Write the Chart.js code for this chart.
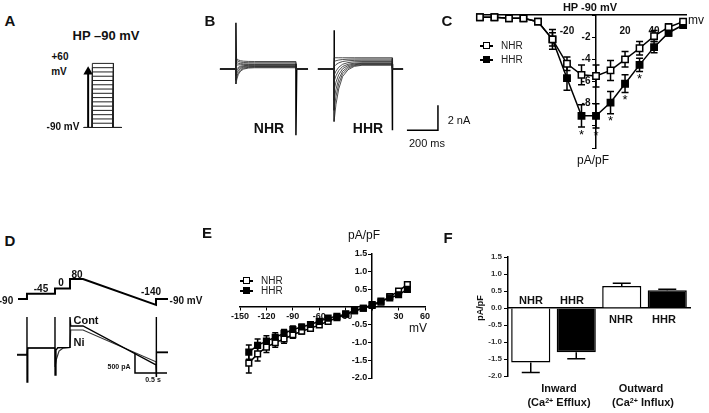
<!DOCTYPE html>
<html>
<head>
<meta charset="utf-8">
<script src="https://cdn.jsdelivr.net/npm/chart.js@4.4.0/dist/chart.umd.min.js"></script>
<style>
  body { margin: 0; background: #fff; }
  #fig { position: relative; width: 709px; height: 413px; overflow: hidden;
         font-family: "Liberation Sans", Arial, sans-serif; color: #111; }
  canvas { position: absolute; }
  .t { position: absolute; white-space: nowrap; line-height: 1; transform: translate(-50%, -50%); }
  .b { font-weight: bold; }
  .leg { position: absolute; display: flex; align-items: center; font-size: 10px; line-height: 1; color: #222; }
  .mk { position: relative; width: 13px; height: 8px; margin-right: 8px; }
  .mk::before { content: ""; position: absolute; left: 0; right: 0; top: 3px; height: 1.5px; background: #000; }
  .mk i { position: absolute; left: 3px; top: 0; width: 7px; height: 7px; box-sizing: border-box;
          border: 1.5px solid #000; background: #fff; }
  .mk i.f { background: #000; }
  sup { font-size: 65%; vertical-align: 0; position: relative; top: -0.45em; }
</style>
</head>
<body>
<div id="fig">
  <canvas id="cA" width="70" height="90" style="left:70px;top:50px"></canvas>
  <canvas id="cB" width="230" height="125" style="left:215px;top:15px"></canvas>
  <canvas id="cC" width="269" height="175" style="left:440px;top:0px"></canvas>
  <canvas id="cD" width="205" height="125" style="left:0px;top:265px"></canvas>
  <canvas id="cE" width="250" height="165" style="left:200px;top:225px"></canvas>
  <canvas id="cF" width="269" height="150" style="left:440px;top:240px"></canvas>

  <!-- panel A -->
  <div class="t b" style="left:10px;top:20px;font-size:15px">A</div>
  <div class="t b" style="left:106px;top:35px;font-size:13px">HP –90 mV</div>
  <div class="t b" style="left:60px;top:57px;font-size:10px">+60</div>
  <div class="t b" style="left:59px;top:72px;font-size:10px">mV</div>
  <div class="t b" style="left:63px;top:127px;font-size:10px">-90 mV</div>

  <!-- panel B -->
  <div class="t b" style="left:210px;top:20px;font-size:15px">B</div>
  <div class="t b" style="left:269px;top:128px;font-size:14px">NHR</div>
  <div class="t b" style="left:368px;top:128px;font-size:14px">HHR</div>
  <div class="t" style="left:459px;top:120px;font-size:11px">2 nA</div>
  <div class="t" style="left:427px;top:143px;font-size:11px">200 ms</div>

  <!-- panel C -->
  <div class="t b" style="left:447px;top:20px;font-size:15px">C</div>
  <div class="t b" style="left:590px;top:7px;font-size:11px">HP -90 mV</div>
  <div class="t" style="left:696px;top:20px;font-size:12px">mv</div>
  <div class="t" style="left:593px;top:160px;font-size:12px">pA/pF</div>
  <div class="leg" style="left:480px;top:41px"><span class="mk"><i></i></span>NHR</div>
  <div class="leg" style="left:480px;top:55px"><span class="mk"><i class="f"></i></span>HHR</div>

  <!-- panel D -->
  <div class="t b" style="left:10px;top:240px;font-size:15px">D</div>
  <div class="t b" style="left:6px;top:301px;font-size:10px">-90</div>
  <div class="t b" style="left:41px;top:289px;font-size:10px">-45</div>
  <div class="t b" style="left:61px;top:283px;font-size:10px">0</div>
  <div class="t b" style="left:77px;top:275px;font-size:10px">80</div>
  <div class="t b" style="left:151px;top:292px;font-size:10px">-140</div>
  <div class="t b" style="left:186px;top:301px;font-size:10px">-90 mV</div>
  <div class="t b" style="left:86px;top:320px;font-size:11px">Cont</div>
  <div class="t b" style="left:79px;top:342px;font-size:11px">Ni</div>
  <div class="t b" style="left:119px;top:366px;font-size:7px">500 pA</div>
  <div class="t b" style="left:153px;top:379px;font-size:7px">0.5 s</div>

  <!-- panel E -->
  <div class="t b" style="left:207px;top:232px;font-size:15px">E</div>
  <div class="t" style="left:364px;top:235px;font-size:12px">pA/pF</div>
  <div class="t" style="left:418px;top:328px;font-size:12px">mV</div>
  <div class="leg" style="left:240px;top:276px"><span class="mk"><i></i></span>NHR</div>
  <div class="leg" style="left:240px;top:286px"><span class="mk"><i class="f"></i></span>HHR</div>

  <!-- panel F -->
  <div class="t b" style="left:448px;top:237px;font-size:15px">F</div>
  <div class="t b" style="left:531px;top:300px;font-size:11px">NHR</div>
  <div class="t b" style="left:572px;top:300px;font-size:11px">HHR</div>
  <div class="t b" style="left:621px;top:319px;font-size:11px">NHR</div>
  <div class="t b" style="left:664px;top:319px;font-size:11px">HHR</div>
  <div class="t b" style="left:559px;top:388px;font-size:11px">Inward</div>
  <div class="t b" style="left:559px;top:403px;font-size:11px">(Ca<sup>2+</sup> Efflux)</div>
  <div class="t b" style="left:641px;top:388px;font-size:11px">Outward</div>
  <div class="t b" style="left:643px;top:403px;font-size:11px">(Ca<sup>2+</sup> Influx)</div>
  <div class="t b" style="left:480px;top:308px;font-size:9px;transform:translate(-50%,-50%) rotate(-90deg)">pA/pF</div>
</div>

<script>
// ---- data ----
// A: step protocol
const stepTimeA = [0, 40, 40, 140, 140, 180];
const stepLevelsA = [-90, -80, -70, -60, -50, -40, -30, -20, -10, 0, 10, 20, 30, 40, 50, 60];

// B: current traces (ms, nA)
const nhrEpochB = [32, 135, 522, 600];
const hhrEpochB = [664, 768, 1142, 1213];
const nhrPeakB = [-1.2, -0.9, -0.55, -0.3, -0.1, 0.3, 0.55, 0.75, 0.9];
const nhrPlatB = [0.1, 0.15, 0.2, 0.25, 0.3, 0.35, 0.4, 0.5, 0.6];
const hhrPeakB = [-4.2, -3.3, -2.5, -1.7, -1.0, -0.5, 0.2, 0.6, 0.9];
const hhrPlatB = [0.3, 0.35, 0.4, 0.45, 0.5, 0.6, 0.7, 0.8, 0.9];
const decayFracB = [1, 0.7, 0.42, 0.2, 0.08, 0.02, 0];
const nhrDecayMsB = [0, 6, 15, 30, 50, 80, 120];
const hhrDecayMsB = [0, 12, 30, 55, 90, 130, 180];
const nhrSpikeB = [3.7, -5.3];
const hhrSpikeB = [3.1, -4.9];

// C: I-V, HP -90 mV
const voltC = [-80, -70, -60, -50, -40, -30, -20, -10, 0, 10, 20, 30, 40, 50, 60];
const nhrC = [-0.2, -0.2, -0.3, -0.3, -0.6, -2.2, -4.4, -5.4, -5.5, -5.0, -4.0, -3.0, -1.9, -1.1, -0.6];
const hhrC = [-0.2, -0.2, -0.3, -0.3, -0.6, -2.2, -5.7, -9.1, -9.1, -7.9, -6.2, -4.5, -2.9, -1.6, -0.9];
const nhrErrC = [0, 0, 0, 0, 0.2, 0.6, 0.6, 0.9, 1.0, 0.9, 0.7, 0.6, 0.5, 0.3, 0.2];
const hhrErrC = [0, 0, 0, 0, 0.2, 0.9, 1.1, 1.0, 1.1, 1.0, 0.8, 0.6, 0.5, 0.3, 0.2];
const sigVoltC = [-10, 0, 10, 20, 30];

// D: ramp protocol and currents
const protoTimeD = [0, 140, 140, 577, 577, 811, 811, 1014, 2153, 2153, 2340];
const protoVoltD = [-90, -90, -45, -45, 0, 0, 80, 80, -140, -90, -90];
const contTimeD = [-16, 140, 140, 141, 152, 577, 577, 578, 592, 620, 811, 811, 822, 1014, 2153, 2153, 2154, 2168, 2340];
const contCurrD = [0, 0, 950, -675, 175, 180, 950, -500, 120, 180, 190, 950, 725, 725, -250, 950, -550, 60, 60];
const niTimeD = [-16, 140, 152, 577, 578, 600, 640, 700, 811, 822, 1014, 2153, 2154, 2168, 2340];
const niCurrD = [15, 15, 175, 175, -300, -100, 100, 170, 190, 625, 625, -170, -550, 80, 80];

// E: ramp I-V
const voltE = [-140, -130, -120, -110, -100, -90, -80, -70, -60, -50, -40, -30, -20, -10, 0, 10, 20, 30, 40];
const nhrE = [-1.58, -1.32, -1.13, -1.0, -0.9, -0.78, -0.68, -0.6, -0.5, -0.4, -0.3, -0.2, -0.1, -0.03, 0.05, 0.14, 0.3, 0.45, 0.64];
const hhrE = [-1.27, -1.08, -0.96, -0.85, -0.74, -0.63, -0.56, -0.49, -0.4, -0.31, -0.26, -0.19, -0.1, -0.03, 0.07, 0.17, 0.26, 0.35, 0.5];
const nhrErrE = [0.28, 0.2, 0.15, 0.13, 0.12, 0.1, 0.08, 0.07, 0.06, 0.05, 0.05, 0.04, 0.03, 0.03, 0.03, 0.04, 0.05, 0.05, 0.06];
const hhrErrE = [0.2, 0.18, 0.15, 0.13, 0.11, 0.1, 0.08, 0.07, 0.06, 0.05, 0.05, 0.04, 0.03, 0.03, 0.03, 0.03, 0.04, 0.04, 0.05];

// F: bars
const groupsF = ["NHR", "HHR", "NHR", "HHR"];
const valuesF = [-1.6, -1.3, 0.65, 0.52];
const errorsF = [0.3, 0.19, 0.08, 0.03];
const fillsF = ["#fff", "#000", "#fff", "#000"];

// ---- helpers ----
Chart.defaults.font.family = '"Liberation Sans", Arial, sans-serif';
Chart.defaults.color = "#111";
Chart.defaults.animation = false;
Chart.defaults.responsive = false;
Chart.defaults.plugins.legend.display = false;
Chart.defaults.plugins.tooltip.enabled = false;

const xy = (xs, ys) => xs.map((x, i) => ({ x: x, y: ys[i] }));

function line(data, width, color, extra) {
  return Object.assign({ data: data, borderColor: color || "#000", borderWidth: width,
    pointRadius: 0, tension: 0, fill: false }, extra || {});
}

function bare(xmin, xmax, ymin, ymax) {
  return {
    x: { type: "linear", display: false, min: xmin, max: xmax },
    y: { type: "linear", display: false, min: ymin, max: ymax }
  };
}

function drawErrors(chart) {
  const ctx = chart.ctx;
  const yScale = chart.scales.y;
  chart.data.datasets.forEach((ds, i) => {
    if (!ds.errors) return;
    const meta = chart.getDatasetMeta(i);
    ctx.save();
    ctx.strokeStyle = "#000";
    ctx.lineWidth = 1.5;
    meta.data.forEach((el, j) => {
      const e = ds.errors[j];
      if (!e) return;
      const d = ds.data[j];
      const v = typeof d === "object" ? d.y : d;
      let hi = v + e, lo = v - e;
      if (ds.oneSided) { if (v < 0) hi = v; else lo = v; }
      const x = el.x, c = ds.cap / 2;
      const y1 = yScale.getPixelForValue(hi), y2 = yScale.getPixelForValue(lo);
      ctx.beginPath();
      ctx.moveTo(x, y1); ctx.lineTo(x, y2);
      if (hi !== v) { ctx.moveTo(x - c, y1); ctx.lineTo(x + c, y1); }
      if (lo !== v) { ctx.moveTo(x - c, y2); ctx.lineTo(x + c, y2); }
      ctx.stroke();
    });
    ctx.restore();
  });
}
const errBefore = { id: "errBefore", beforeDatasetsDraw: drawErrors };
const errAfter = { id: "errAfter", afterDatasetsDraw: drawErrors };

// ---- A ----
const datasetsA = stepLevelsA.map(v => line(xy(stepTimeA, [-90, -90, v, v, -90, -90]), 1, "#222"));
datasetsA.push(line(xy([20, 20], [-90, 40]), 2, "#000"));
datasetsA.push(line([{ x: 20, y: 40.5 }], 0, "#000",
  { pointRadius: 5.5, pointStyle: "triangle", pointBackgroundColor: "#000", pointBorderWidth: 0 }));
new Chart(document.getElementById("cA"), {
  type: "line",
  data: { datasets: datasetsA },
  options: { layout: { padding: 0 }, scales: bare(-40, 240, -106.4, 78.5) }
});

// ---- B ----
function traceB(ep, peak, plat, decayMs) {
  const pts = [{ x: ep[0], y: 0 }, { x: ep[1], y: 0 }];
  decayMs.forEach((dt, k) => pts.push({ x: ep[1] + dt, y: plat + (peak - plat) * decayFracB[k] }));
  pts.push({ x: ep[2], y: plat }, { x: ep[2] + 3, y: 0 }, { x: ep[3], y: 0 });
  return pts;
}
const datasetsB = [];
nhrPeakB.forEach((p, i) => datasetsB.push(line(traceB(nhrEpochB, p, nhrPlatB[i], nhrDecayMsB), 0.8, "#222")));
hhrPeakB.forEach((p, i) => datasetsB.push(line(traceB(hhrEpochB, p, hhrPlatB[i], hhrDecayMsB), 0.8, "#222")));
[[nhrEpochB, nhrSpikeB], [hhrEpochB, hhrSpikeB]].forEach(([ep, sp]) => {
  datasetsB.push(line([{ x: ep[1], y: 0 }, { x: ep[1], y: sp[0] }, { x: ep[1] + 2, y: 0.4 }], 1.5));
  datasetsB.push(line([{ x: ep[2], y: 0.4 }, { x: ep[2], y: sp[1] }, { x: ep[2] + 5, y: 0 }], 1.5));
});
// scale bar: 200 ms, 2 nA
datasetsB.push(line([{ x: 1238, y: -4.9 }, { x: 1438, y: -4.9 }, { x: 1438, y: -2.9 }], 1.5));
new Chart(document.getElementById("cB"), {
  type: "line",
  data: { datasets: datasetsB },
  options: { layout: { padding: 0 }, scales: bare(0, 1483.5, -5.68, 4.32) }
});

// ---- C ----
const stars = {
  id: "stars",
  afterDatasetsDraw(chart) {
    const ctx = chart.ctx, xs = chart.scales.x, ys = chart.scales.y;
    ctx.save();
    ctx.fillStyle = "#000";
    ctx.font = '13px "Liberation Sans", Arial, sans-serif';
    ctx.textAlign = "center";
    ctx.textBaseline = "middle";
    sigVoltC.forEach(v => {
      const i = voltC.indexOf(v);
      ctx.fillText("*", xs.getPixelForValue(v), ys.getPixelForValue(hhrC[i] - hhrErrC[i]) + 8);
    });
    ctx.restore();
  }
};
const ivPoint = (fill) => ({ pointStyle: "rect", pointRadius: 4.5, pointBackgroundColor: fill,
  pointBorderColor: "#000", pointBorderWidth: 1.5, clip: false });
new Chart(document.getElementById("cC"), {
  type: "line",
  data: {
    datasets: [
      line(xy(voltC, nhrC), 1.5, "#000", Object.assign(ivPoint("#fff"), { errors: nhrErrC, cap: 7 })),
      line(xy(voltC, hhrC), 1.5, "#000", Object.assign(ivPoint("#000"), { errors: hhrErrC, cap: 7 }))
    ]
  },
  options: {
    layout: { padding: { left: 37, right: 23, top: 15, bottom: 27 } },
    scales: {
      x: {
        type: "linear", position: { y: 0 }, min: -82, max: 62,
        grid: { display: false }, border: { color: "#000", width: 1.5 },
        ticks: { stepSize: 20, padding: 2, font: { size: 10, weight: "bold" },
          callback: v => ([-20, 20, 40].includes(v) ? v : "") }
      },
      y: {
        type: "linear", position: { x: 0 }, min: -12, max: 0,
        grid: { drawOnChartArea: false, color: "#000", tickLength: 3 },
        border: { color: "#000", width: 1.5 },
        ticks: { stepSize: 2, font: { size: 10, weight: "bold" },
          callback: v => ([-2, -4, -6, -8].includes(v) ? v + "  " : "") }
      }
    }
  },
  plugins: [errBefore, stars]
});

// ---- D ----
const scalesD = bare(-280.8, 2917.2, -863.5, 199);
scalesD.y2 = { type: "linear", display: false, min: -875, max: 2250 };
new Chart(document.getElementById("cD"), {
  type: "line",
  data: {
    datasets: [
      line(xy(protoTimeD, protoVoltD), 2, "#000", { yAxisID: "y" }),
      line(xy(contTimeD, contCurrD), 1.4, "#000", { yAxisID: "y2" }),
      line(xy(niTimeD, niCurrD), 1.2, "#333", { yAxisID: "y2" }),
      // scale bar: 500 pA, 0.5 s
      line([{ x: 1825, y: 50 }, { x: 1825, y: -450 }, { x: 2325, y: -450 }], 1.5, "#000", { yAxisID: "y2" })
    ]
  },
  options: { layout: { padding: 0 }, scales: scalesD }
});

// ---- E ----
new Chart(document.getElementById("cE"), {
  type: "line",
  data: {
    datasets: [
      line(xy(voltE, hhrE), 1.5, "#000", Object.assign(ivPoint("#000"), { pointRadius: 4, errors: hhrErrE, cap: 6 })),
      line(xy(voltE, nhrE), 1.5, "#000", Object.assign(ivPoint("#fff"), { pointRadius: 4, errors: nhrErrE, cap: 6 }))
    ]
  },
  options: {
    layout: { padding: { left: 40, right: 25, top: 29, bottom: 12 } },
    scales: {
      x: {
        type: "linear", position: { y: 0 }, min: -150, max: 60,
        grid: { drawOnChartArea: false, color: "#000", tickLength: 3 },
        border: { color: "#000", width: 1.5 },
        ticks: { stepSize: 30, padding: 1, font: { size: 9, weight: "bold" },
          callback: v => (v === 0 ? "" : v) }
      },
      y: {
        type: "linear", position: { x: 0 }, min: -2, max: 1.5,
        grid: { drawOnChartArea: false, color: "#000", tickLength: 3 },
        border: { color: "#000", width: 1.5 },
        ticks: { stepSize: 0.5, font: { size: 9, weight: "bold" },
          callback: v => (v === 0 ? "" : v.toFixed(1) + "  ") }
      }
    }
  },
  plugins: [errBefore]
});

// ---- F ----
new Chart(document.getElementById("cF"), {
  type: "bar",
  data: {
    labels: groupsF,
    datasets: [{
      data: valuesF, backgroundColor: fillsF, borderColor: "#000", borderWidth: 1.5,
      barPercentage: 0.86, categoryPercentage: 1, errors: errorsF, oneSided: true, cap: 18
    }]
  },
  options: {
    layout: { padding: { left: 28, right: 19, top: 17, bottom: 14 } },
    scales: {
      x: {
        position: { y: 0 }, grid: { display: false },
        border: { color: "#000", width: 1.5 }, ticks: { display: false }
      },
      y: {
        min: -2, max: 1.5,
        afterFit: s => { s.width = 40; },
        grid: { drawOnChartArea: false, color: "#000", tickLength: 4 },
        border: { color: "#000", width: 1.5 },
        ticks: { stepSize: 0.5, padding: 2, color: "#333", font: { size: 8, weight: "bold" },
          callback: v => v.toFixed(1) }
      }
    }
  },
  plugins: [errAfter]
});
</script>
</body>
</html>
